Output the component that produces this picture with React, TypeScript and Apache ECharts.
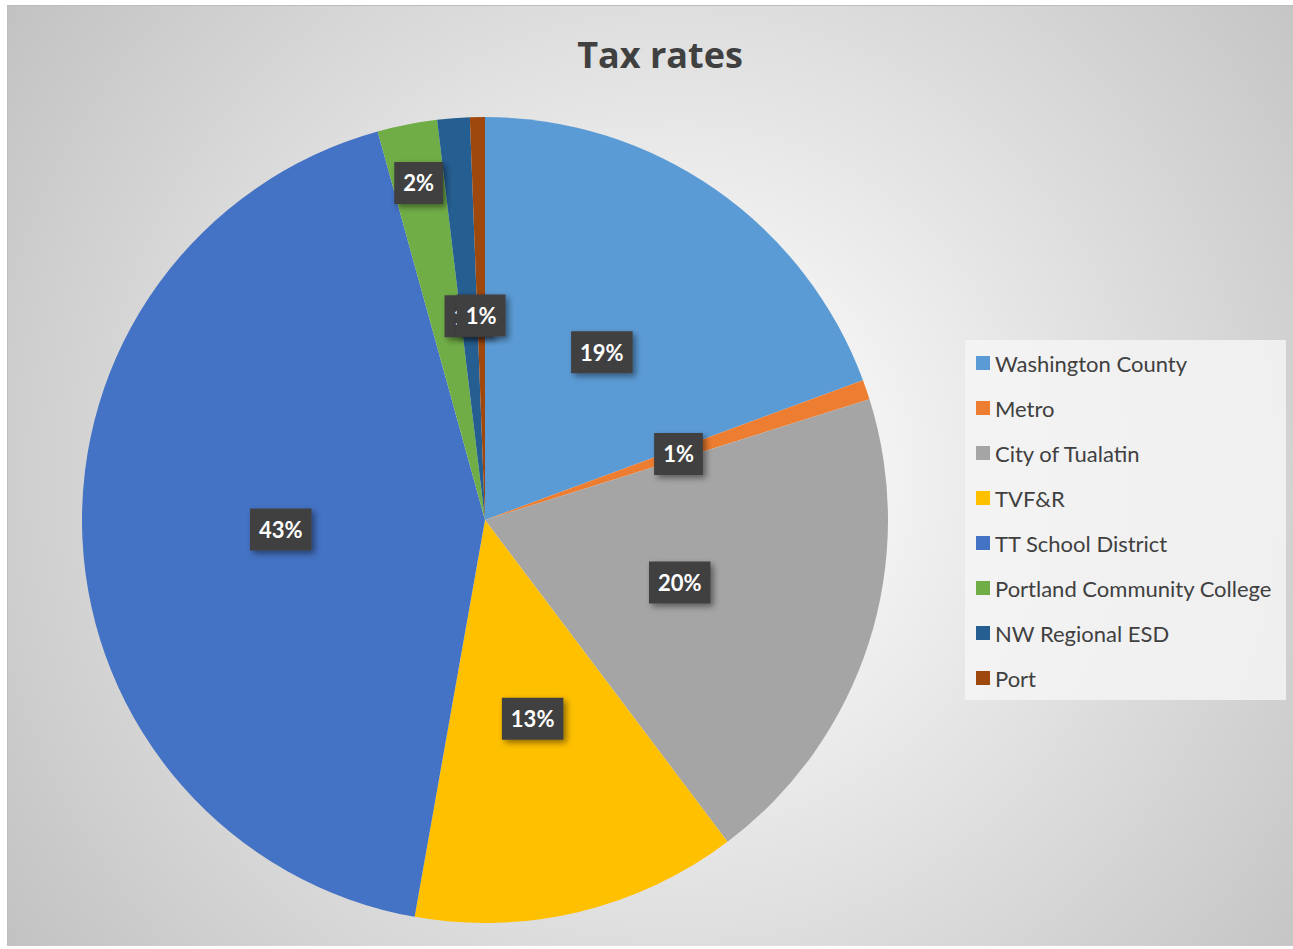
import React, { useEffect, useRef } from "react";
import * as echarts from "echarts";

const categories = [
  "Washington County",
  "Metro",
  "City of Tualatin",
  "TVF&R",
  "TT School District",
  "Portland Community College",
  "NW Regional ESD",
  "Port",
];
const shares = [19.4, 0.8, 19.6, 13.1, 43.0, 2.4, 1.3, 0.6];
const colors = ["#5B9BD5", "#ED7D31", "#A5A5A5", "#FFC000", "#4472C4", "#70AD47", "#255E91", "#9E480E"];
const titleText = "Tax rates";

const PIE_CENTER = [485, 520];
const PIE_RADIUS = 403;
const FONT = "Lato, 'Open Sans', sans-serif";

export default function App() {
  const ref = useRef<HTMLDivElement>(null);
  useEffect(() => {
    if (!ref.current) return;
    const chart = echarts.init(ref.current, null, { renderer: "svg" });
    chart.setOption({
      animation: false,
      backgroundColor: "transparent",
      title: {
        text: titleText,
        left: 655,
        top: 31,
        textAlign: "center",
        textStyle: { fontFamily: "'Open Sans', Lato, sans-serif", fontSize: 36, fontWeight: "bold", color: "#404040" },
      },
      legend: {
        orient: "vertical",
        left: 965,
        top: 340,
        itemWidth: 14,
        itemHeight: 14,
        itemGap: 23,
        icon: "rect",
        backgroundColor: "rgba(244,244,244,0.85)",
        padding: [12, 14, 11, 11],
        textStyle: { fontFamily: FONT, fontSize: 22, color: "#404040", lineHeight: 22 },
        data: categories,
      },
      series: [
        {
          type: "pie",
          center: PIE_CENTER,
          radius: PIE_RADIUS,
          startAngle: 90,
          clockwise: true,
          data: categories.map((c, i) => ({ name: c, value: shares[i], itemStyle: { color: colors[i] } })),
          label: {
            show: true,
            position: "inside",
            formatter: (p: any) => Math.round(p.percent) + "%",
            fontFamily: FONT,
            fontSize: 22,
            fontWeight: "bold",
            color: "#ffffff",
            backgroundColor: "#404040",
            padding: [10, 9, 10, 9],
            shadowColor: "rgba(0,0,0,0.45)",
            shadowBlur: 6,
            shadowOffsetX: 3,
            shadowOffsetY: 3,
          },
          labelLine: { show: false },
          emphasis: { disabled: true },
          labelLayout: (params: any) => {
            if (params.dataIndex !== 5) return {};
            const r = params.labelRect;
            const lx = r.x + r.width / 2;
            const ly = r.y + r.height / 2;
            const k = 0.68;
            return { dx: (lx - PIE_CENTER[0]) * k, dy: (ly - PIE_CENTER[1]) * k };
          },
        },
      ],
    });
    return () => chart.dispose();
  }, []);

  return (
    <div style={{ position: "fixed", left: 0, top: 0, width: 1293, height: 949, background: "#ffffff" }}>
      <div
        style={{
          position: "absolute",
          left: 7,
          top: 5,
          width: 1286,
          height: 941,
          boxSizing: "border-box",
          borderTop: "1px solid #bdbdbd",
          borderLeft: "1px solid #bdbdbd",
          background: "radial-gradient(circle farthest-corner at 52% 50%, #ffffff 0%, #f6f6f6 20%, #c2c2c2 100%)",
        }}
      />
      <div ref={ref} style={{ position: "absolute", left: 0, top: 0, width: 1293, height: 949 }} />
    </div>
  );
}
